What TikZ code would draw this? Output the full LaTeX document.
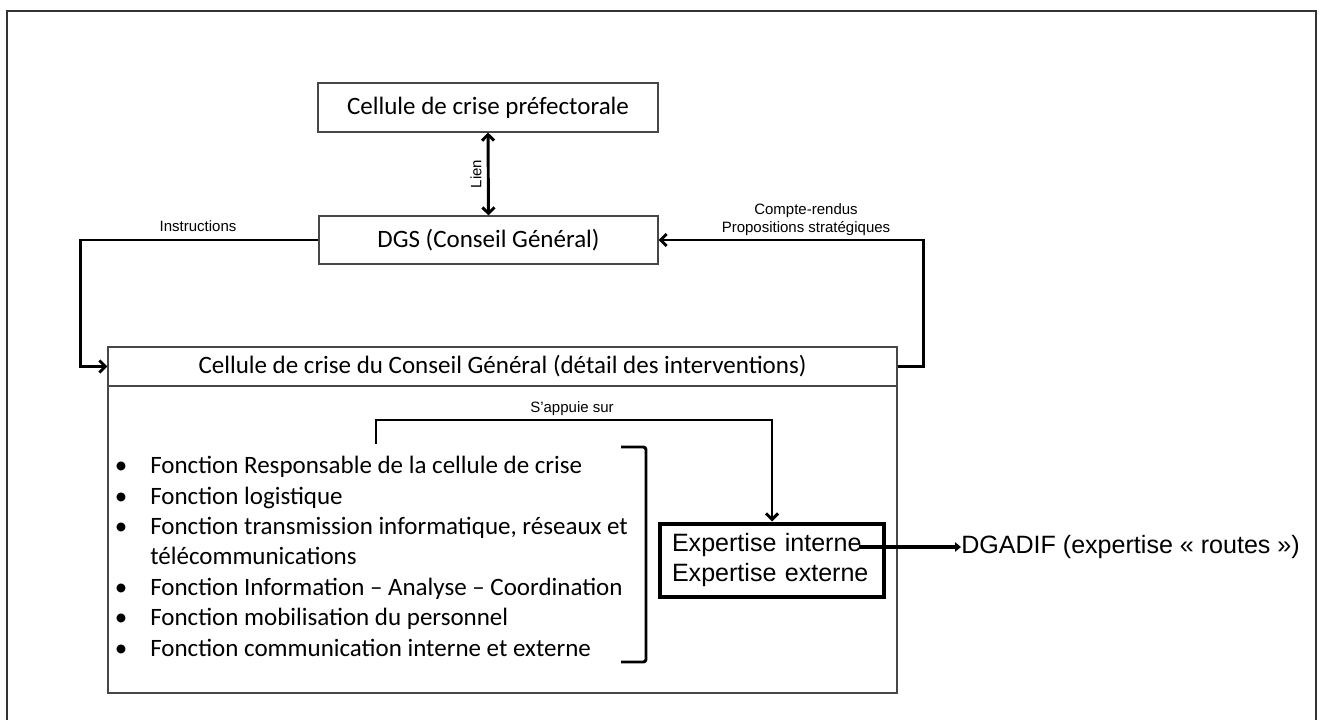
\documentclass[tikz,border=0pt]{standalone}
\usepackage{fontspec}
\setmainfont{Carlito}
\newfontfamily\arialf{Liberation Sans}
\usetikzlibrary{arrows.meta}
\begin{document}
\begin{tikzpicture}[x=0.75pt,y=-0.75pt,
  box/.style={draw=black!72,line width=0.8pt,rectangle,inner sep=0pt},
  conn/.style={line width=2.2pt,-{Straight Barb[length=4.5pt,width=9pt]}},
  biconn/.style={line width=2.2pt,{Straight Barb[length=4.5pt,width=9pt]}-{Straight Barb[length=4.5pt,width=9pt]}},
  lbl/.style={font=\arialf\fontsize{11.25}{13.5}\selectfont,inner sep=0pt},
  big/.style={font=\fontsize{18.75}{22}\selectfont},
  item/.style={font=\fontsize{18.75}{22}\selectfont,anchor=base west,inner sep=0pt},
  bul/.style={font=\fontsize{18.75}{22}\selectfont,anchor=base,inner sep=0pt},
  arbig/.style={font=\arialf\fontsize{18.8}{21}\selectfont}]
\useasboundingbox (0,0) rectangle (1323,720);
% outer frame
\draw[black!80,line width=1.5pt] (7,730) -- (7,11) -- (1316,11) -- (1316,730);

% main boxes
\node[box,big,minimum width=340*0.75pt,minimum height=49*0.75pt] (pref) at (488,107.5) {Cellule de crise préfectorale};
\node[box,big,minimum width=339*0.75pt,minimum height=48*0.75pt] (dgs) at (488.5,240) {DGS (Conseil Général)};
\node[box,big,minimum width=789*0.75pt,minimum height=39*0.75pt] (hdr) at (502.5,366.5) {Cellule de crise du Conseil Général (détail des interventions)};
\node[box,minimum width=789*0.75pt,minimum height=307*0.75pt] (body) at (502.5,539.5) {};

% expertise box
\node[draw=black,line width=3pt,rectangle,arbig,align=left,text width=150pt,inner xsep=9pt,inner ysep=0pt,minimum height=73*0.75pt] (exp) at (772,560) {Expertise interne\\[0.8pt]Expertise externe};
\node[arbig,anchor=west,inner sep=0pt] (dgadif) at (961,547) {DGADIF (expertise « routes »)};

% bullet list
\foreach \yy/\tx in {473/Fonction Responsable de la cellule de crise,
                     504/Fonction logistique,
                     534/{Fonction transmission informatique, réseaux et},
                     595/Fonction Information – Analyse – Coordination,
                     625/Fonction mobilisation du personnel,
                     656/Fonction communication interne et externe}{
  \node[bul] at (121,\yy) {•};
  \node[item] at (150,\yy) {\tx};
}
\node[item] (tele) at (150,564) {télécommunications};

% bracket
\draw[line width=2.2pt,rounded corners=2pt] (621,447) -- (646,447) -- (646,662) -- (621,662);

% connectors
\draw[biconn] (pref.south) -- (dgs.north) node[midway,lbl,rotate=90,anchor=south,inner sep=4pt] (lien) {Lien};
\draw[conn] (dgs.west) -- ++(-238,0) |- (hdr.west);
\node[lbl] (instr) at (198,226) {Instructions};
\draw[conn] (hdr.east) -- ++(26,0) |- (dgs.east);
\node[lbl,align=center] (cr) at (806,220) {Compte-rendus\\Propositions stratégiques};
\coordinate (sa) at (376,444);
\draw[conn] (sa) -- ++(0,-24) -| (exp.north);
\node[lbl] (sap) at (572,409) {S’appuie sur};
\coordinate (expout) at (859,547);
\draw[line width=2.6pt,-{Triangle[length=4.5pt,width=7pt]}] (expout) -- (dgadif.west);
\end{tikzpicture}
\end{document}
